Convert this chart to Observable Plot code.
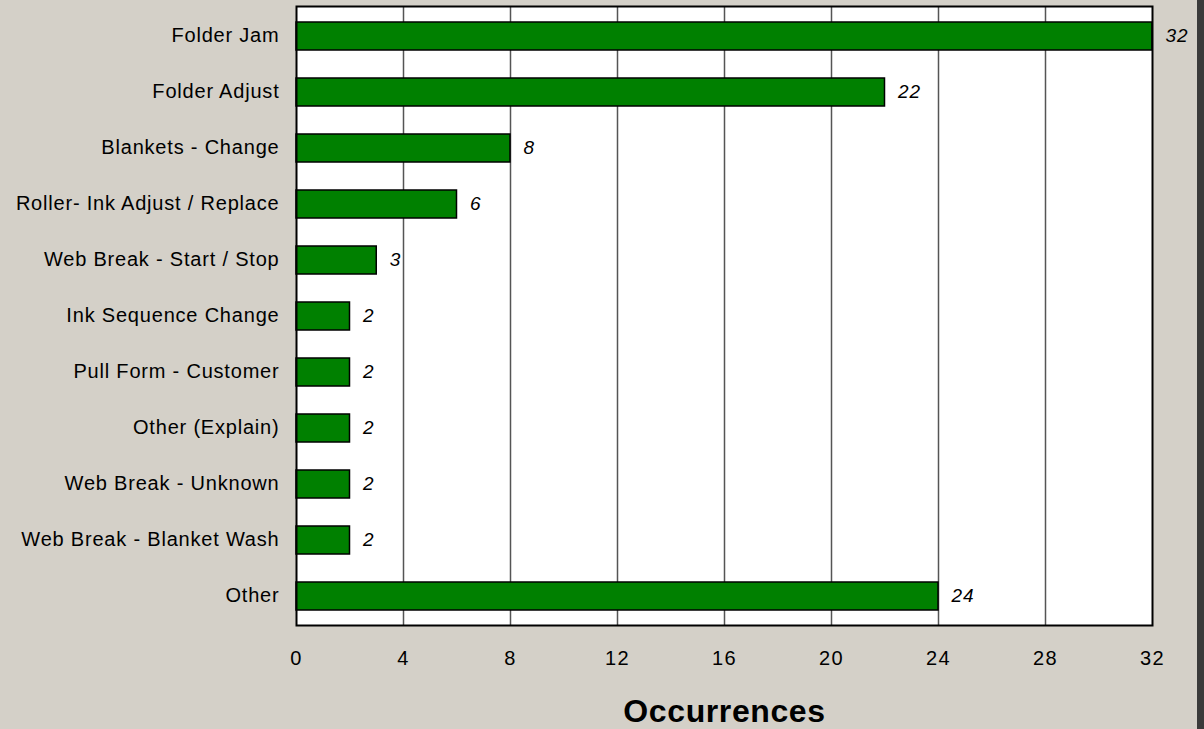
<!DOCTYPE html>
<html><head><meta charset="utf-8">
<script src="https://cdn.jsdelivr.net/npm/d3@7"></script>
<script src="https://cdn.jsdelivr.net/npm/@observablehq/plot@0.6"></script>
<style>
html,body{margin:0;padding:0;background:#3a3a3a;}
#wrap{width:1197px;height:729px;background:#d4d0c8;overflow:hidden;}
svg{display:block;}
.ylab text{letter-spacing:0.8px;}
.xlab text{letter-spacing:1.5px;}
.vlab text{letter-spacing:1px;}
.ttl text{letter-spacing:0.6px;}
</style></head>
<body><div id="wrap"></div>
<script>
const categories = ["Folder Jam","Folder Adjust","Blankets - Change","Roller- Ink Adjust / Replace","Web Break - Start / Stop","Ink Sequence Change","Pull Form - Customer","Other (Explain)","Web Break - Unknown","Web Break - Blanket Wash","Other"];
const occurrences = [32,22,8,6,3,2,2,2,2,2,24];
const xTicks = [0,4,8,12,16,20,24,28,32];
const gridTicks = [4,8,12,16,20,24,28];
const axisTitle = "Occurrences";

const data = categories.map((c,i)=>({category:c, value:occurrences[i]}));

const chart = Plot.plot({
  width: 1197,
  height: 729,
  marginLeft: 296,
  marginRight: 45,
  marginTop: 6,
  marginBottom: 104,
  style: {background:"#d4d0c8", fontFamily:"'Liberation Sans', Arial, sans-serif", color:"#000"},
  x: {domain:[0,32], ticks: xTicks, label:null},
  y: {domain: categories, paddingInner:0.5, paddingOuter:0.25, label:null},
  marks: [
    Plot.frame({fill:"white", stroke:"none"}),
    Plot.ruleX(gridTicks, {stroke:"#555", strokeWidth:1.5}),
    Plot.barX(data, {x:"value", y:"category", fill:"#008000", stroke:"#000", strokeWidth:1.5}),
    Plot.text(data, {x:"value", y:"category", text:d=>String(d.value), dx:13, dy:-1, textAnchor:"start", fontStyle:"italic", fontSize:19, fill:"#000", className:"vlab"}),
    Plot.frame({stroke:"#000", strokeWidth:2}),
    Plot.axisY({tickSize:0, tickPadding:17, fontSize:20, label:null, className:"ylab", dy:-1}),
    Plot.axisX({ticks:xTicks, tickSize:0, tickPadding:25, fontSize:20, label:null, tickFormat:d=>String(d), className:"xlab"}),
    Plot.text([axisTitle], {frameAnchor:"bottom", dy:96, fontSize:32, fontWeight:"bold", fill:"#000", className:"ttl"})
  ]
});
document.getElementById("wrap").appendChild(chart);
</script>
</body></html>
